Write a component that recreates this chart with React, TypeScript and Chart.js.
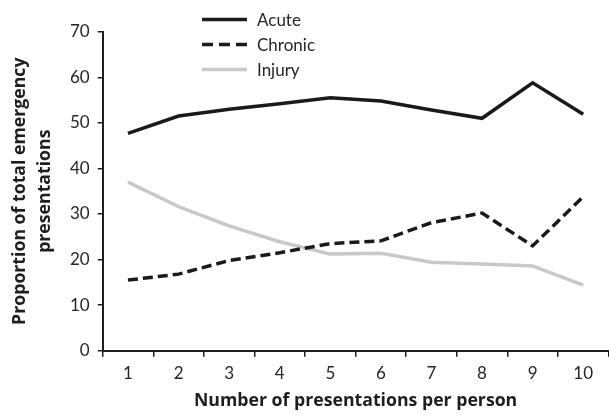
import { useEffect, useRef } from "react";
import { Chart, registerables } from "chart.js";

Chart.register(...registerables);

const categories = ["1", "2", "3", "4", "5", "6", "7", "8", "9", "10"];
const acute = [47.7, 51.5, 53.0, 54.2, 55.5, 54.8, 52.8, 51.0, 58.8, 51.9];
const chronic = [15.5, 16.8, 19.8, 21.5, 23.5, 24.1, 28.1, 30.2, 23.0, 33.8];
const injury = [37.0, 31.6, 27.4, 23.9, 21.2, 21.4, 19.4, 19.0, 18.6, 14.4];
const yTickValues = [0, 10, 20, 30, 40, 50, 60, 70];
const xTitle = "Number of presentations per person";
const yTitle = ["Proportion of total emergency", "presentations"];

const FONT = "Lato";
const TITLE_FONT = "'Open Sans'";
const TEXT = "#262626";
const AXIS = "#1e1e1e";

const legendPlugin = {
  id: "customLegend",
  afterDraw(chart: any) {
    const ctx = chart.ctx as CanvasRenderingContext2D;
    chart.data.datasets.forEach((ds: any, i: number) => {
      const y = 19.5 + i * 25;
      ctx.save();
      ctx.strokeStyle = ds.borderColor;
      ctx.lineWidth = ds.borderWidth;
      ctx.setLineDash(ds.borderDash && ds.borderDash.length ? [11, 6] : []);
      ctx.beginPath();
      ctx.moveTo(202, y);
      ctx.lineTo(247, y);
      ctx.stroke();
      ctx.setLineDash([]);
      ctx.fillStyle = TEXT;
      ctx.font = `17px ${FONT}`;
      ctx.textBaseline = "middle";
      ctx.textAlign = "left";
      ctx.fillText(ds.label, 257, y + 1);
      ctx.restore();
    });
  },
};

export default function App() {
  const ref = useRef<HTMLCanvasElement | null>(null);
  useEffect(() => {
    if (!ref.current) return;
    const tickFont = { family: FONT, size: 17 };
    const titleFont = { family: TITLE_FONT, size: 17.7, weight: "bold" as const };
    const chart = new Chart(ref.current, {
      type: "line",
      data: {
        labels: categories,
        datasets: [
          {
            label: "Acute",
            data: acute,
            borderColor: "#1a1a1a",
            borderWidth: 3.5,
            pointRadius: 0,
            tension: 0,
            borderJoinStyle: "miter",
            fill: false,
          },
          {
            label: "Chronic",
            data: chronic,
            borderColor: "#1a1a1a",
            borderWidth: 3.5,
            borderDash: [10, 5],
            pointRadius: 0,
            tension: 0,
            borderJoinStyle: "miter",
            fill: false,
          },
          {
            label: "Injury",
            data: injury,
            borderColor: "#c8c8c8",
            borderWidth: 3.5,
            pointRadius: 0,
            tension: 0,
            borderJoinStyle: "miter",
            fill: false,
          },
        ],
      },
      options: {
        responsive: false,
        animation: false,
        devicePixelRatio: 1,
        layout: { padding: { top: 31.7, left: 0, right: 0.5, bottom: 0 } },
        plugins: {
          legend: { display: false },
          tooltip: { enabled: false },
        },
        scales: {
          x: {
            type: "category",
            offset: true,
            grid: {
              offset: true,
              drawOnChartArea: false,
              drawTicks: true,
              tickLength: 6,
              color: AXIS,
              lineWidth: 1.5,
            },
            border: { display: true, color: AXIS, width: 2 },
            ticks: { font: tickFont, color: TEXT, padding: 7, maxRotation: 0 },
            title: {
              display: true,
              text: xTitle,
              font: titleFont,
              color: "#1e1e1e",
              padding: { top: 4, bottom: 4 },
            },
            afterFit: (s: any) => {
              s.height = 65.3;
            },
          },
          y: {
            min: 0,
            max: 70,
            afterBuildTicks: (s: any) => {
              s.ticks = yTickValues.map((v) => ({ value: v }));
            },
            grid: {
              drawOnChartArea: false,
              drawTicks: true,
              tickLength: 5,
              color: AXIS,
              lineWidth: 1.5,
            },
            border: { display: true, color: AXIS, width: 2 },
            ticks: { font: tickFont, color: TEXT, padding: 8 },
            title: {
              display: true,
              text: yTitle,
              font: { ...titleFont, lineHeight: 1.4 },
              color: "#1e1e1e",
              padding: { top: 7.5, bottom: 0 },
            },
            afterFit: (s: any) => {
              s.width = 102.7;
            },
          },
        },
      },
      plugins: [legendPlugin],
    });
    return () => chart.destroy();
  }, []);
  return (
    <div style={{ position: "fixed", left: 0, top: 0, width: 609, height: 416, background: "#fff" }}>
      <canvas ref={ref} width={609} height={416} style={{ display: "block" }} />
    </div>
  );
}
